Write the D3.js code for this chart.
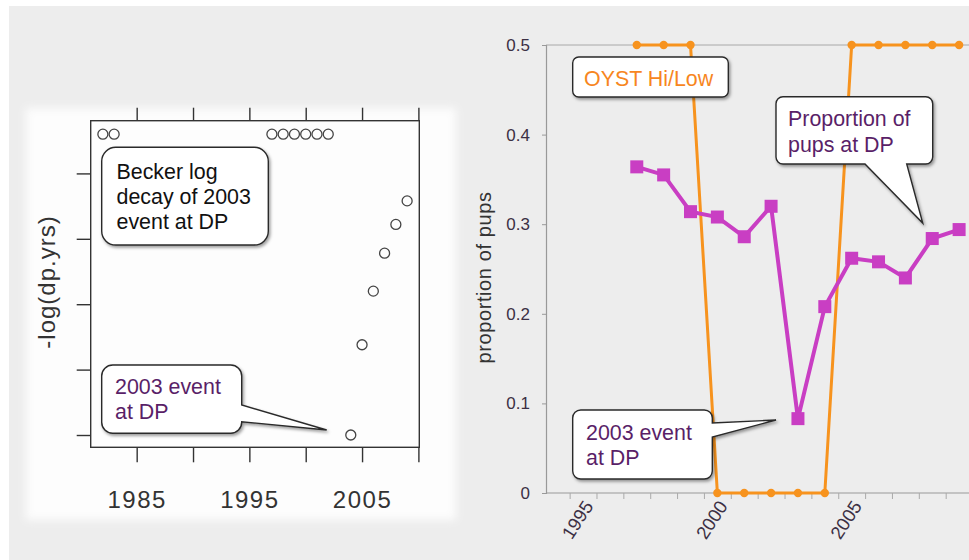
<!DOCTYPE html>
<html><head><meta charset="utf-8">
<script src="https://cdn.jsdelivr.net/npm/d3@7"></script>
<style>
html,body{margin:0;padding:0;background:#fff;}
svg{display:block;font-family:"Liberation Sans",Arial,Helvetica,sans-serif;}
</style></head>
<body>
<svg id="c" width="969" height="560"></svg>
<script>
// ---------- data ----------
// left panel (R plot)
const leftYears  = [1982, 1983, 1997, 1998, 1999, 2000, 2001, 2002, 2004, 2005, 2006, 2007, 2008, 2009];
const leftValues = [2.30, 2.30, 2.30, 2.30, 2.30, 2.30, 2.30, 2.30, 0.00, 0.69, 1.10, 1.39, 1.61, 1.79];
const leftXTicks = [1985, 1990, 1995, 2000, 2005, 2010];
const leftXLabels = [1985, 1995, 2005];
const leftYTicks = [0, 0.5, 1, 1.5, 2];
// right panel
const years = [1997, 1998, 1999, 2000, 2001, 2002, 2003, 2004, 2005, 2006, 2007, 2008, 2009];
const pups  = [0.364, 0.355, 0.314, 0.308, 0.286, 0.320, 0.083, 0.208, 0.262, 0.258, 0.240, 0.284, 0.294];
const oyst  = [0.5, 0.5, 0.5, 0, 0, 0, 0, 0, 0.5, 0.5, 0.5, 0.5, 0.5];
const rightYTicks = [0, 0.1, 0.2, 0.3, 0.4, 0.5];
const rightXLabels = [1995, 2000, 2005];
const rightXBounds = [1994.5,1995.5,1996.5,1997.5,1998.5,1999.5,2000.5,2001.5,2002.5,2003.5,2004.5,2005.5,2006.5,2007.5,2008.5,2009.5];

const svg = d3.select("#c");
const defs = svg.append("defs");
const sh = defs.append("filter").attr("id","shadow").attr("x","-20%").attr("y","-20%").attr("width","150%").attr("height","150%");
sh.append("feDropShadow").attr("dx",1.5).attr("dy",2).attr("stdDeviation",1.6).attr("flood-color","#000").attr("flood-opacity",0.38);
const bl = defs.append("filter").attr("id","blur").attr("x","-10%").attr("y","-10%").attr("width","120%").attr("height","120%");
bl.append("feGaussianBlur").attr("stdDeviation",4);

// background
svg.append("rect").attr("width",969).attr("height",560).attr("fill","#fff");
svg.append("rect").attr("x",9).attr("y",6).attr("width",960).attr("height",554).attr("fill","#ededed");
svg.append("rect").attr("x",26).attr("y",108).attr("width",430).attr("height",412).attr("fill","#fdfdfd").attr("filter","url(#blur)");

// callout path builder
function callout(g, x, y, w, h, r, tail, textLines, color, fs, tx, ty0, lh){
  let p = `M${x+r},${y} H${x+w-r} A${r},${r} 0 0 1 ${x+w},${y+r}`;
  if(tail && tail.side==="right"){
    p += ` V${tail.a} L${tail.tip[0]},${tail.tip[1]} L${x+w},${tail.b}`;
  }
  p += ` V${y+h-r} A${r},${r} 0 0 1 ${x+w-r},${y+h}`;
  if(tail && tail.side==="bottom"){
    p += ` H${tail.b} L${tail.tip[0]},${tail.tip[1]} L${tail.a},${y+h}`;
  }
  p += ` H${x+r} A${r},${r} 0 0 1 ${x},${y+h-r} V${y+r} A${r},${r} 0 0 1 ${x+r},${y} Z`;
  g.append("path").attr("d",p).attr("fill","#fff").attr("stroke","#2a2a2a").attr("stroke-width",1.4)
    .attr("filter","url(#shadow)");
  textLines.forEach((t,i)=>{
    g.append("text").attr("x",tx).attr("y",ty0+i*lh).attr("fill",color).attr("font-size",fs).text(t);
  });
}

// ---------- left panel ----------
const L = {x0:90.7, x1:419.3, y0:120.7, y1:447.3};
const xL = d3.scaleLinear().domain([1980.92, 2010.08]).range([L.x0, L.x1]);
const yL = d3.scaleLinear().domain([-0.094, 2.403]).range([L.y1, L.y0]);
const gl = svg.append("g");

const axB = gl.append("g").attr("transform",`translate(0,${L.y1})`)
  .call(d3.axisBottom(xL).tickValues(leftXTicks).tickSize(15).tickPadding(29)
    .tickFormat(d => leftXLabels.includes(d) ? d : ""));
const axT = gl.append("g").attr("transform",`translate(0,${L.y0})`)
  .call(d3.axisTop(xL).tickValues(leftXTicks).tickSize(13).tickFormat(""));
const axL = gl.append("g").attr("transform",`translate(${L.x0},0)`)
  .call(d3.axisLeft(yL).tickValues(leftYTicks).tickSize(14).tickFormat(""));
[axB,axT,axL].forEach(a=>{
  a.select(".domain").remove();
  a.selectAll(".tick line").attr("stroke","#333").attr("stroke-width",1.4);
});
axB.selectAll(".tick text").attr("font-size",24).attr("fill","#333").attr("letter-spacing","1.5px")
  .attr("font-family","'Liberation Sans',Arial,sans-serif");
gl.append("rect").attr("x",L.x0).attr("y",L.y0).attr("width",L.x1-L.x0).attr("height",L.y1-L.y0)
  .attr("fill","none").attr("stroke","#333").attr("stroke-width",1.4);
gl.append("text").attr("transform",`translate(55,${(L.y0+L.y1)/2-2}) rotate(-90)`)
  .attr("text-anchor","middle").attr("font-size",24).attr("letter-spacing","1px").attr("fill","#333")
  .text("-log(dp.yrs)");
gl.selectAll("circle.pt").data(leftYears.map((y,i)=>({y, v:leftValues[i]}))).join("circle")
  .attr("class","pt").attr("cx",d=>xL(d.y)).attr("cy",d=>yL(d.v)).attr("r",5)
  .attr("fill","none").attr("stroke","#444").attr("stroke-width",1.3);

callout(gl, 101.7, 147.3, 166.6, 97.7, 14, null, ["Becker log","decay of 2003","event at DP"], "#111", 21.4, 116.5, 178.5, 25);
callout(gl, 101.7, 365, 140, 68.3, 11, {side:"right", a:405, b:421.7, tip:[326.7,430]}, ["2003 event","at DP"], "#5a1f68", 21.4, 115, 394, 25);

// ---------- right panel ----------
const xR = d3.scaleLinear().domain([1993.62, 2010.5]).range([546, 546 + 16.88*26.86]);
const yR = d3.scaleLinear().domain([0, 0.5]).range([493, 45]);
const gr = svg.append("g");

gr.append("line").attr("x1",546).attr("x2",969).attr("y1",yR(0.5)).attr("y2",yR(0.5)).attr("stroke","#a8a8a8").attr("stroke-width",1);
const ayR = gr.append("g").attr("transform","translate(546,0)")
  .call(d3.axisLeft(yR).tickValues(rightYTicks).tickSize(4).tickPadding(12)
    .tickFormat(d => d===0 ? "0" : d3.format(".1f")(d)));
ayR.select(".domain").attr("stroke","#999").attr("stroke-width",1.2);
ayR.selectAll(".tick line").attr("stroke","#999");
ayR.selectAll(".tick text").attr("font-size",17).attr("fill","#3c3044")
  .attr("font-family","'Liberation Sans',Arial,sans-serif");
const axR = gr.append("g").attr("transform","translate(0,493)")
  .call(d3.axisBottom(xR).tickValues(rightXBounds).tickSize(6).tickFormat(""));
axR.select(".domain").attr("stroke","#999").attr("stroke-width",1.2).attr("d","M546,0H969");
axR.selectAll(".tick line").attr("stroke","#aaa");
gr.selectAll("text.xl").data(rightXLabels).join("text").attr("class","xl")
  .attr("transform",d=>`translate(${xR(d)+11},506) rotate(-57)`)
  .attr("text-anchor","end").attr("font-size",18.5).attr("fill","#3c3044").text(d=>d);
gr.append("text").attr("transform","translate(491,277.5) rotate(-90)").attr("text-anchor","middle")
  .attr("font-size",20).attr("letter-spacing","0.6px").attr("fill","#333").text("proportion of pups");

const orange = "#f7931e", mag = "#c93ec3";
const od = years.map((y,i)=>({y, v:oyst[i]}));
const pd = years.map((y,i)=>({y, v:pups[i]}));
gr.append("path").datum(od).attr("fill","none").attr("stroke",orange).attr("stroke-width",3)
  .attr("d", d3.line().x(d=>xR(d.y)).y(d=>yR(d.v)));
gr.selectAll("circle.o").data(od).join("circle").attr("class","o")
  .attr("cx",d=>xR(d.y)).attr("cy",d=>yR(d.v)).attr("r",4.2).attr("fill",orange);
gr.append("path").datum(pd).attr("fill","none").attr("stroke",mag).attr("stroke-width",4)
  .attr("d", d3.line().x(d=>xR(d.y)).y(d=>yR(d.v)));
gr.selectAll("rect.p").data(pd).join("rect").attr("class","p")
  .attr("x",d=>xR(d.y)-6.5).attr("y",d=>yR(d.v)-6.5).attr("width",13).attr("height",13).attr("fill",mag);

callout(gr, 572.7, 57, 155.6, 40, 6, null, ["OYST Hi/Low"], "#f7861e", 21.4, 584, 86, 0);
callout(gr, 776, 96.7, 156.7, 67.3, 7, {side:"bottom", a:865, b:906.7, tip:[922.7,223]}, ["Proportion of","pups at DP"], "#5a1f68", 21.4, 788, 126, 25.5);
callout(gr, 572.7, 410, 139.6, 69, 8, {side:"right", a:423, b:437, tip:[776,420]}, ["2003 event","at DP"], "#5a1f68", 21.4, 586, 439.5, 25.5);
</script>
</body></html>
